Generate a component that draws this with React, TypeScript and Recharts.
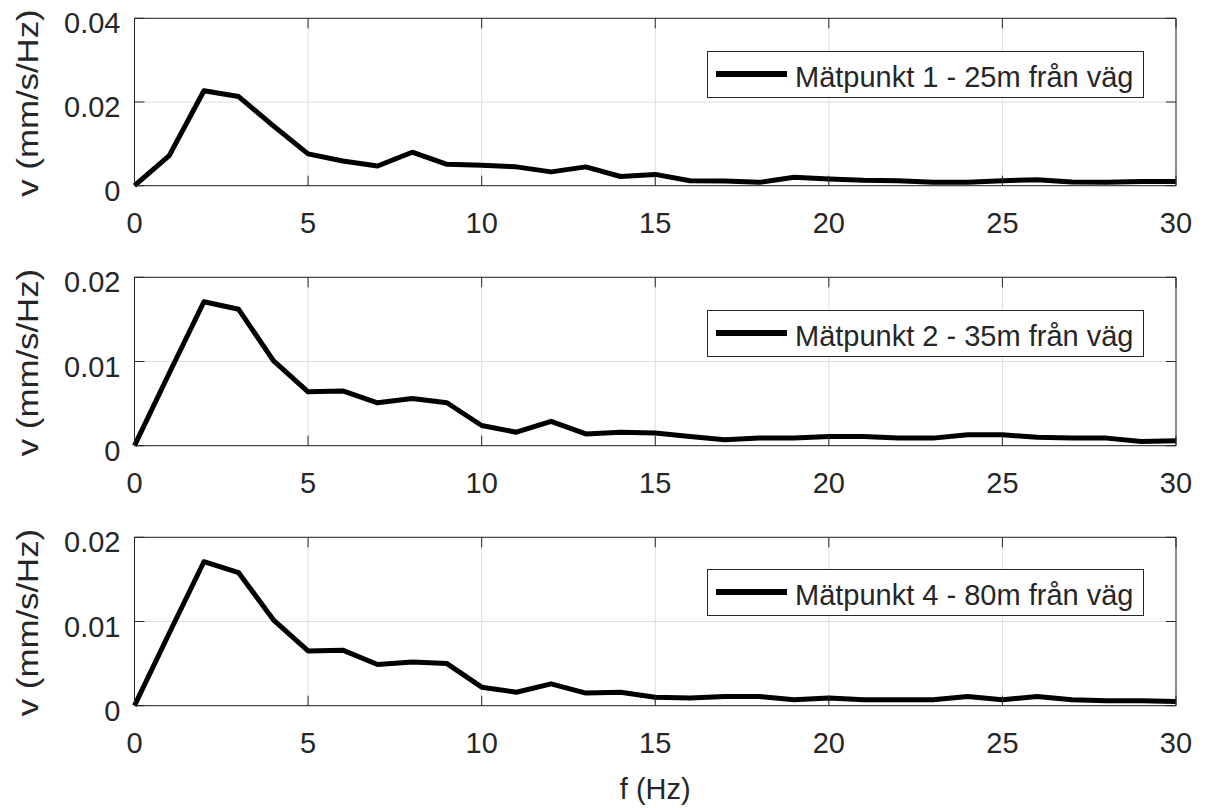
import { LineChart, Line, XAxis, YAxis, CartesianGrid, Legend } from 'recharts';

// frequency bins (Hz)
const FREQ = [0, 1, 2, 3, 4, 5, 6, 7, 8, 9, 10, 11, 12, 13, 14, 15, 16, 17, 18, 19, 20, 21, 22, 23, 24, 25, 26, 27, 28, 29, 30];

// v (mm/s/Hz) per measuring point
const P1 = [0, 0.0072, 0.0227, 0.0213, 0.0143, 0.0076, 0.0059, 0.0047, 0.008, 0.0051, 0.0049, 0.0045, 0.0033, 0.0045, 0.0022, 0.0027, 0.0012, 0.0011, 0.0008, 0.002, 0.0016, 0.0013, 0.0012, 0.0008, 0.0008, 0.0012, 0.0014, 0.0009, 0.0008, 0.001, 0.001];
const P2 = [0, 0.0086, 0.0171, 0.0162, 0.0101, 0.0064, 0.0065, 0.0051, 0.0056, 0.0051, 0.0024, 0.0016, 0.0029, 0.0014, 0.0016, 0.0015, 0.0011, 0.0007, 0.0009, 0.0009, 0.0011, 0.0011, 0.0009, 0.0009, 0.0013, 0.0013, 0.001, 0.0009, 0.0009, 0.0005, 0.0006];
const P3 = [0, 0.0086, 0.0171, 0.0158, 0.0102, 0.0065, 0.0066, 0.0049, 0.0052, 0.005, 0.0022, 0.0016, 0.0026, 0.0015, 0.0016, 0.001, 0.0009, 0.0011, 0.0011, 0.0007, 0.0009, 0.0007, 0.0007, 0.0007, 0.0011, 0.0007, 0.0011, 0.0007, 0.0006, 0.0006, 0.0005];

const X_TICKS = [0, 5, 10, 15, 20, 25, 30];
const Y_TICKS_1 = [0, 0.02, 0.04];
const Y_TICKS_23 = [0, 0.01, 0.02];

const NAMES = ['Mätpunkt 1 - 25m från väg', 'Mätpunkt 2 - 35m från väg', 'Mätpunkt 4 - 80m från väg'];

const FONT = '"Liberation Sans", Arial, Helvetica, sans-serif';
const AXIS = '#262626';
const GRID = '#dedede';
const TICK_LEN = 10;
const FS = 29;

const WIDTH = 1210;
const PLOT_LEFT = 134.5;
const PLOT_RIGHT = 1176;

function BottomTick(props: any) {
  const { x = 0, y = 0, payload } = props;
  return (
    <g>
      <line x1={x} y1={y} x2={x} y2={y - TICK_LEN} stroke={AXIS} />
      <text x={x} y={y + 47} textAnchor="middle" fill={AXIS} fontSize={FS} fontFamily={FONT}>
        {payload.value}
      </text>
    </g>
  );
}

function TopTick(props: any) {
  const { x = 0, y = 0 } = props;
  return <line x1={x} y1={y} x2={x} y2={y + TICK_LEN} stroke={AXIS} />;
}

function LeftTick(props: any) {
  const { x = 0, y = 0, payload } = props;
  return (
    <g>
      <line x1={x} y1={y} x2={x + TICK_LEN} y2={y} stroke={AXIS} />
      <text x={x - 14} y={y + 15} textAnchor="end" fill={AXIS} fontSize={FS} fontFamily={FONT}>
        {String(payload.value)}
      </text>
    </g>
  );
}

function RightTick(props: any) {
  const { x = 0, y = 0 } = props;
  return <line x1={x} y1={y} x2={x - TICK_LEN} y2={y} stroke={AXIS} />;
}

function YLabel(props: any) {
  const vb = props.viewBox || {};
  const cy = (vb.y || 0) + (vb.height || 0) / 2 + 1;
  return (
    <text
      x={0}
      y={0}
      transform={`translate(38, ${cy}) rotate(-90) scale(1.2, 1)`}
      textAnchor="middle"
      fill={AXIS}
      fontSize={29}
      fontFamily={FONT}
    >
      v (mm/s/Hz)
    </text>
  );
}

function XLabel(props: any) {
  const vb = props.viewBox || {};
  return (
    <text
      x={(vb.x || 0) + (vb.width || 0) / 2}
      y={(vb.y || 0) + 93}
      textAnchor="middle"
      fill={AXIS}
      fontSize={FS}
      fontFamily={FONT}
    >
      f (Hz)
    </text>
  );
}

function LegendBox({ label }: { label: string }) {
  return (
    <div
      style={{
        width: 437,
        height: 47,
        boxSizing: 'border-box',
        border: `1px solid ${AXIS}`,
        background: '#fff',
      }}
    >
      <svg width={435} height={45} style={{ display: 'block' }}>
        <line x1={8} x2={79} y1={22} y2={22} stroke="#000" strokeWidth={6} />
        <text x={87} y={35} fill={AXIS} fontSize={FS} fontFamily={FONT}>
          {label}
        </text>
      </svg>
    </div>
  );
}

interface PanelProps {
  top: number;
  height: number;
  plotTop: number;
  plotBottom: number;
  values: number[];
  yMax: number;
  yTicks: number[];
  name: string;
  legendTop: number;
  showXLabel?: boolean;
}

function Panel({ top, height, plotTop, plotBottom, values, yMax, yTicks, name, legendTop, showXLabel }: PanelProps) {
  const data = FREQ.map((f, i) => ({ f, v: values[i] }));
  const topAxisH = 2;
  const bottomAxisH = 60;
  const rightAxisW = 2;
  const margin = {
    top: plotTop - topAxisH,
    bottom: height - plotBottom - bottomAxisH,
    left: 0,
    right: WIDTH - PLOT_RIGHT - rightAxisW,
  };

  return (
    <div style={{ position: 'absolute', left: 0, top, width: WIDTH, height }}>
      <LineChart width={WIDTH} height={height} data={data} margin={margin}>
        <CartesianGrid stroke={GRID} strokeWidth={1} />
        <XAxis
          dataKey="f"
          type="number"
          domain={[0, 30]}
          ticks={X_TICKS}
          interval={0}
          height={bottomAxisH}
          tickSize={0}
          tickMargin={0}
          tickLine={false}
          axisLine={{ stroke: AXIS }}
          tick={BottomTick}
          label={showXLabel ? { content: XLabel } : undefined}
        />
        <XAxis
          xAxisId="top"
          orientation="top"
          dataKey="f"
          type="number"
          domain={[0, 30]}
          ticks={X_TICKS}
          interval={0}
          height={topAxisH}
          tickSize={0}
          tickMargin={0}
          tickLine={false}
          axisLine={{ stroke: AXIS }}
          tick={TopTick}
          allowDataOverflow
        />
        <YAxis
          type="number"
          domain={[0, yMax]}
          ticks={yTicks}
          interval={0}
          width={PLOT_LEFT}
          tickSize={0}
          tickMargin={0}
          tickLine={false}
          axisLine={{ stroke: AXIS }}
          tick={LeftTick}
          label={{ content: YLabel }}
        />
        <YAxis
          yAxisId="right"
          orientation="right"
          type="number"
          domain={[0, yMax]}
          ticks={yTicks}
          interval={0}
          width={rightAxisW}
          tickSize={0}
          tickMargin={0}
          tickLine={false}
          axisLine={{ stroke: AXIS }}
          tick={RightTick}
          allowDataOverflow
        />
        <Legend
          layout="vertical"
          align="center"
          verticalAlign="middle"
          wrapperStyle={{ left: 707, top: legendTop, width: 437, height: 47 }}
          content={() => <LegendBox label={name} />}
        />
        <Line
          dataKey="v"
          name={name}
          type="linear"
          stroke="#000"
          strokeWidth={5}
          strokeLinejoin="round"
          dot={false}
          activeDot={false}
          isAnimationActive={false}
        />
      </LineChart>
    </div>
  );
}

export default function App() {
  return (
    <div style={{ position: 'absolute', left: 0, top: 0, width: WIDTH, height: 808, background: '#fff', overflow: 'hidden' }}>
      <Panel top={0} height={260} plotTop={18.3} plotBottom={185.7} values={P1} yMax={0.04} yTicks={Y_TICKS_1} name={NAMES[0]} legendTop={51} />
      <Panel top={260} height={260} plotTop={17.3} plotBottom={185.7} values={P2} yMax={0.02} yTicks={Y_TICKS_23} name={NAMES[1]} legendTop={50} />
      <Panel top={520} height={288} plotTop={17.3} plotBottom={185.7} values={P3} yMax={0.02} yTicks={Y_TICKS_23} name={NAMES[2]} legendTop={49} showXLabel />
    </div>
  );
}
